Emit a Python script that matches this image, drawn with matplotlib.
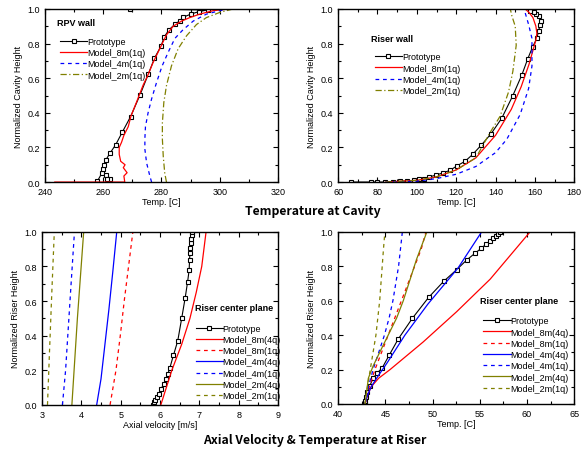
import numpy as np
import matplotlib.pyplot as plt
from matplotlib.ticker import MultipleLocator, AutoMinorLocator

plt.rcParams['font.family'] = ['Liberation Sans', 'DejaVu Sans']

# ---- RPV wall (cavity) ----
rpv_proto_t = [258.0, 259.5, 261.0, 262.5, 261.2, 259.8, 260.3, 260.8, 262.3, 264.3, 266.6, 269.4,
               272.6, 275.5, 277.6, 279.8, 281.0, 282.6, 284.6, 286.3, 287.4, 290.2, 292.9, 295.8, 269.1]
rpv_proto_h = [0.005, 0.05, 0.04, 0.02, 0.015, 0.073, 0.098, 0.125, 0.166, 0.216, 0.29, 0.378,
               0.502, 0.624, 0.716, 0.784, 0.84, 0.88, 0.911, 0.932, 0.952, 0.971, 0.985, 0.994, 1.0]
rpv_8m_t = [243.4, 267.4, 267.1, 268.2, 266.9, 267.5, 266.0, 265.5, 265.5, 266.3, 267.1, 268.6, 269.5,
            271.4, 273.7, 275.4, 277.1, 279.4, 281.7, 284.0, 286.9, 289.7, 293.1, 297.7, 303.4, 270.0]
rpv_8m_h = [0.0, 0.0, 0.035, 0.054, 0.083, 0.10, 0.12, 0.16, 0.2, 0.23, 0.27, 0.32, 0.38,
            0.46, 0.56, 0.62, 0.69, 0.77, 0.85, 0.9, 0.93, 0.95, 0.97, 0.99, 1.0, 1.0]
rpv_4m_t = [276.6, 276.0, 274.9, 274.3, 274.3, 274.5, 275.4, 276.6, 278.3, 280.2, 282.3, 284.6,
            287.4, 290.9, 295.4, 300.0, 303.4]
rpv_4m_h = [0.0, 0.035, 0.11, 0.19, 0.25, 0.32, 0.40, 0.48, 0.575, 0.67, 0.75, 0.83,
            0.88, 0.93, 0.97, 0.99, 1.0]
rpv_2m_t = [281.7, 281.1, 280.6, 280.3, 280.3, 280.8, 281.7, 283.4, 285.7, 288.6, 292.0, 295.4, 300.0, 304.6]
rpv_2m_h = [0.0, 0.054, 0.15, 0.25, 0.34, 0.46, 0.556, 0.67, 0.77, 0.845, 0.91, 0.95, 0.98, 1.0]

# ---- Riser wall ----
rw_proto_t = [66.3, 76.5, 79.9, 83.8, 87.7, 91.4, 95.1, 98.5, 101.3, 103.6, 106.4, 109.7, 113.5, 116.9,
              120.3, 124.5, 128.4, 132.8, 137.8, 143.2, 148.8, 153.4, 156.3, 158.8, 161.0, 161.9,
              162.7, 163.0, 161.9, 160.7, 159.3, 157.6]
rw_proto_h = [0.0, 0.0, 0.0, 0.0, 0.002, 0.004, 0.006, 0.01, 0.015, 0.02, 0.03, 0.04, 0.054, 0.068,
              0.093, 0.12, 0.16, 0.214, 0.28, 0.37, 0.50, 0.62, 0.71, 0.78, 0.83, 0.875,
              0.91, 0.93, 0.96, 0.97, 0.98, 0.99]
rw_8m_t = [84.0, 100.0, 110.0, 120.0, 130.0, 140.0, 148.0, 153.0, 157.0, 159.0, 160.5, 161.0, 160.5, 159.0, 157.0, 155.0]
rw_8m_h = [0.0, 0.01, 0.03, 0.07, 0.14, 0.27, 0.42, 0.55, 0.68, 0.76, 0.82, 0.86, 0.9, 0.95, 0.98, 1.0]
rw_4m_t = [84.0, 100.0, 110.0, 120.0, 130.0, 140.0, 145.7, 152.5, 156.8, 158.5, 158.5, 156.8, 155.0, 154.0]
rw_4m_h = [0.0, 0.005, 0.02, 0.045, 0.09, 0.17, 0.247, 0.39, 0.54, 0.67, 0.83, 0.91, 0.98, 1.0]
rw_2m_t = [84.0, 100.0, 110.0, 120.0, 130.0, 137.2, 142.3, 146.6, 148.8, 150.5, 150.0, 148.3, 147.5]
rw_2m_h = [0.0, 0.01, 0.03, 0.07, 0.14, 0.286, 0.38, 0.52, 0.64, 0.79, 0.9, 0.96, 1.0]

# ---- Riser center plane: axial velocity ----
vel_proto_v = [5.81, 5.84, 5.88, 5.92, 5.97, 6.03, 6.09, 6.15, 6.20, 6.25, 6.34, 6.45, 6.55, 6.64,
               6.70, 6.74, 6.75, 6.76, 6.77, 6.78, 6.79, 6.80, 6.80]
vel_proto_h = [0.0, 0.015, 0.03, 0.045, 0.064, 0.093, 0.12, 0.15, 0.18, 0.214, 0.286, 0.37, 0.50, 0.62,
               0.71, 0.78, 0.836, 0.875, 0.907, 0.936, 0.96, 0.98, 1.0]
vel_8m4q_v = [6.02, 6.30, 6.55, 6.76, 6.92, 7.06, 7.17]
vel_8m4q_h = [0.0, 0.2, 0.35, 0.5, 0.65, 0.8, 1.0]
vel_8m1q_v = [4.73, 4.88, 4.99, 5.09, 5.20, 5.31]
vel_8m1q_h = [0.0, 0.2, 0.4, 0.6, 0.8, 1.0]
vel_4m4q_v = [4.39, 4.50, 4.60, 4.70, 4.80, 4.90]
vel_4m4q_h = [0.0, 0.15, 0.35, 0.55, 0.77, 1.0]
vel_4m1q_v = [3.52, 3.60, 3.67, 3.74, 3.82]
vel_4m1q_h = [0.0, 0.2, 0.45, 0.7, 0.98]
vel_2m4q_v = [3.76, 3.83, 3.90, 3.98, 4.06]
vel_2m4q_h = [0.0, 0.25, 0.5, 0.75, 1.0]
vel_2m1q_v = [3.14, 3.19, 3.25, 3.31]
vel_2m1q_h = [0.0, 0.3, 0.65, 0.98]

# ---- Riser center plane: temperature ----
rt_proto_t = [42.83, 42.86, 42.9, 43.08, 43.36, 43.7, 44.14, 44.67, 45.41, 46.36, 47.85, 49.58, 51.17,
              52.55, 53.61, 54.46, 55.13, 55.66, 56.09, 56.44, 56.73, 56.97, 57.15]
rt_proto_h = [0.0, 0.02, 0.04, 0.07, 0.106, 0.15, 0.18, 0.21, 0.284, 0.377, 0.497, 0.619, 0.712,
              0.78, 0.836, 0.874, 0.903, 0.928, 0.948, 0.963, 0.977, 0.986, 0.996]
rt_8m4q_t = [42.85, 43.1, 43.5, 44.3, 45.5, 49.0, 52.55, 56.1, 60.33]
rt_8m4q_h = [0.0, 0.05, 0.1, 0.15, 0.2, 0.36, 0.536, 0.725, 1.0]
rt_8m1q_t = [42.85, 43.3, 43.9, 44.6, 45.3, 46.0, 46.7, 47.4, 48.1, 48.8, 49.3]
rt_8m1q_h = [0.0, 0.1, 0.2, 0.3, 0.4, 0.5, 0.6, 0.7, 0.8, 0.9, 1.0]
rt_4m4q_t = [42.85, 43.1, 43.5, 44.2, 45.2, 47.07, 49.5, 52.7, 55.2]
rt_4m4q_h = [0.0, 0.05, 0.1, 0.16, 0.24, 0.4, 0.58, 0.79, 1.0]
rt_4m1q_t = [42.85, 43.2, 43.7, 44.3, 44.9, 45.4, 45.8, 46.1, 46.4, 46.8]
rt_4m1q_h = [0.0, 0.1, 0.2, 0.3, 0.4, 0.5, 0.6, 0.7, 0.8, 1.0]
rt_2m4q_t = [42.85, 43.2, 43.7, 44.4, 45.3, 46.2, 46.9, 47.6, 48.3, 49.4]
rt_2m4q_h = [0.0, 0.15, 0.22, 0.3, 0.4, 0.5, 0.6, 0.72, 0.84, 1.0]
rt_2m1q_t = [42.85, 43.1, 43.4, 43.7, 44.0, 44.2, 44.4, 44.6, 44.8, 44.95]
rt_2m1q_h = [0.0, 0.1, 0.2, 0.3, 0.4, 0.5, 0.6, 0.75, 0.9, 1.0]

RED = '#ff0000'
BLUE = '#0000ff'
OLIVE = '#808000'
FS = 6.5

fig = plt.figure(figsize=(5.83, 4.52), dpi=100)
ax1 = fig.add_axes([0.077, 0.595, 0.400, 0.383])
ax2 = fig.add_axes([0.580, 0.595, 0.405, 0.383])
ax3 = fig.add_axes([0.072, 0.102, 0.405, 0.383])
ax4 = fig.add_axes([0.580, 0.104, 0.405, 0.381])


def style(ax, xlim, xstep, xlabel, ylabel):
    ax.set_xlim(*xlim)
    ax.set_ylim(0, 1.0)
    ax.xaxis.set_major_locator(MultipleLocator(xstep))
    ax.yaxis.set_major_locator(MultipleLocator(0.2))
    ax.xaxis.set_minor_locator(AutoMinorLocator(2))
    ax.yaxis.set_minor_locator(AutoMinorLocator(2))
    ax.yaxis.set_major_formatter(plt.FormatStrFormatter('%.1f'))
    ax.tick_params(which='both', direction='in', top=True, right=True, labelsize=FS, width=0.8)
    ax.tick_params(which='major', length=3.5)
    ax.tick_params(which='minor', length=2)
    for s in ax.spines.values():
        s.set_linewidth(1.0)
    ax.set_xlabel(xlabel, fontsize=FS, labelpad=1)
    ax.set_ylabel(ylabel, fontsize=FS, labelpad=3)


def proto(ax, x, y):
    ax.plot(x, y, color='black', lw=0.8, marker='s', ms=3.5, mfc='white', mec='black',
            mew=0.8, label='Prototype')


def leg(ax, loc, anchor):
    ax.legend(loc=loc, bbox_to_anchor=anchor, frameon=False, fontsize=FS,
              handlelength=3.0, handletextpad=0.0, labelspacing=0.25, borderaxespad=0)


# panel 1
proto(ax1, rpv_proto_t, rpv_proto_h)
ax1.plot(rpv_8m_t, rpv_8m_h, color=RED, lw=0.9, label='Model_8m(1q)')
ax1.plot(rpv_4m_t, rpv_4m_h, color=BLUE, lw=0.9, ls=(0, (3, 3)), label='Model_4m(1q)')
ax1.plot(rpv_2m_t, rpv_2m_h, color=OLIVE, lw=0.9, ls=(0, (5, 2, 1, 2)), label='Model_2m(1q)')
style(ax1, (240, 320), 20, 'Temp. [C]', 'Normalized Cavity Height')
ax1.text(0.05, 0.92, 'RPV wall', transform=ax1.transAxes, fontsize=FS, fontweight='bold', va='center')
leg(ax1, 'upper left', (0.05, 0.86))

# panel 2
proto(ax2, rw_proto_t, rw_proto_h)
ax2.plot(rw_8m_t, rw_8m_h, color=RED, lw=0.9, label='Model_8m(1q)')
ax2.plot(rw_4m_t, rw_4m_h, color=BLUE, lw=0.9, ls=(0, (3, 3)), label='Model_4m(1q)')
ax2.plot(rw_2m_t, rw_2m_h, color=OLIVE, lw=0.9, ls=(0, (5, 2, 1, 2)), label='Model_2m(1q)')
style(ax2, (60, 180), 20, 'Temp. [C]', 'Normalized Cavity Height')
ax2.text(0.14, 0.83, 'Riser wall', transform=ax2.transAxes, fontsize=FS, fontweight='bold', va='center')
leg(ax2, 'upper left', (0.14, 0.77))

# panel 3
proto(ax3, vel_proto_v, vel_proto_h)
ax3.plot(vel_8m4q_v, vel_8m4q_h, color=RED, lw=0.9, label='Model_8m(4q)')
ax3.plot(vel_8m1q_v, vel_8m1q_h, color=RED, lw=0.9, ls=(0, (3, 3)), label='Model_8m(1q)')
ax3.plot(vel_4m4q_v, vel_4m4q_h, color=BLUE, lw=0.9, label='Model_4m(4q)')
ax3.plot(vel_4m1q_v, vel_4m1q_h, color=BLUE, lw=0.9, ls=(0, (3, 3)), label='Model_4m(1q)')
ax3.plot(vel_2m4q_v, vel_2m4q_h, color=OLIVE, lw=0.9, label='Model_2m(4q)')
ax3.plot(vel_2m1q_v, vel_2m1q_h, color=OLIVE, lw=0.9, ls=(0, (3, 3)), label='Model_2m(1q)')
style(ax3, (3, 9), 1, 'Axial velocity [m/s]', 'Normalized Riser Height')
ax3.text(0.65, 0.56, 'Riser center plane', transform=ax3.transAxes, fontsize=FS, fontweight='bold', va='center')
leg(ax3, 'upper left', (0.635, 0.49))

# panel 4
proto(ax4, rt_proto_t, rt_proto_h)
ax4.plot(rt_8m4q_t, rt_8m4q_h, color=RED, lw=0.9, label='Model_8m(4q)')
ax4.plot(rt_8m1q_t, rt_8m1q_h, color=RED, lw=0.9, ls=(0, (3, 3)), label='Model_8m(1q)')
ax4.plot(rt_4m4q_t, rt_4m4q_h, color=BLUE, lw=0.9, label='Model_4m(4q)')
ax4.plot(rt_4m1q_t, rt_4m1q_h, color=BLUE, lw=0.9, ls=(0, (3, 3)), label='Model_4m(1q)')
ax4.plot(rt_2m4q_t, rt_2m4q_h, color=OLIVE, lw=0.9, label='Model_2m(4q)')
ax4.plot(rt_2m1q_t, rt_2m1q_h, color=OLIVE, lw=0.9, ls=(0, (3, 3)), label='Model_2m(1q)')
style(ax4, (40, 65), 5, 'Temp. [C]', 'Normalized Riser Height')
ax4.text(0.60, 0.60, 'Riser center plane', transform=ax4.transAxes, fontsize=FS, fontweight='bold', va='center')
leg(ax4, 'upper left', (0.60, 0.53))

fig.text(0.537, 0.533, 'Temperature at Cavity', ha='center', va='center',
         fontsize=8.8, fontweight='bold', family=['Noto Sans CJK KR', 'DejaVu Sans'])
fig.text(0.540, 0.025, 'Axial Velocity & Temperature at Riser', ha='center', va='center',
         fontsize=8.8, fontweight='bold', family=['Noto Sans CJK KR', 'DejaVu Sans'])

fig.savefig('out.png', dpi=100)
